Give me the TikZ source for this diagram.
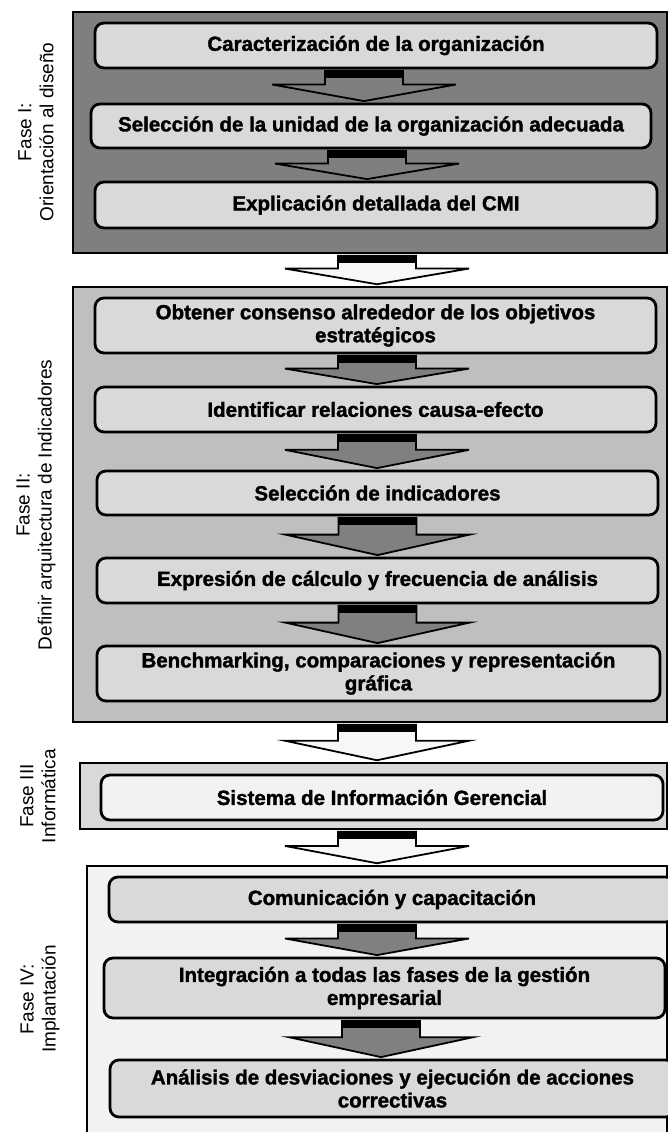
\documentclass[tikz,border=0pt]{standalone}
\usepackage{fontspec}
\setmainfont{Liberation Sans}[BoldFeatures={FakeBold=1.6}]
\usetikzlibrary{calc}
\definecolor{pI}{HTML}{7F7F7F}
\definecolor{pII}{HTML}{BFBFBF}
\definecolor{pIII}{HTML}{D9D9D9}
\definecolor{pIV}{HTML}{F2F2F2}
\definecolor{boxfill}{HTML}{D9D9D9}
\definecolor{boxlight}{HTML}{F2F2F2}
\definecolor{arrowdark}{HTML}{808080}
\definecolor{arrowlight}{HTML}{F7F7F7}
\tikzset{
  phasebox/.style={draw=black, line width=2.5pt, rectangle, inner sep=0pt},
  stepbox/.style={draw=black, line width=2.8pt, rounded corners=9pt, align=center,
    font=\bfseries\fontsize{20.5}{23}\selectfont, inner sep=0pt},
  phaselabel/.style={rotate=90, align=center, font=\fontsize{19}{22}\selectfont, inner sep=0pt},
  arrowbody/.style={draw=black, line width=1.8pt, line join=miter},
}
\newcommand\stepat[7]{%
  \node[stepbox, fill=#6, minimum width={(#4-#2)*1pt}, minimum height={(#5-#3)*1pt}]
    (#1) at ({(#2+#4)/2},{(#3+#5)/2}) {#7};}
\newcommand\phaseat[6]{%
  \node[phasebox, fill=#6, minimum width={(#4-#2)*1pt}, minimum height={(#5-#3)*1pt}]
    (#1) at ({(#2+#4)/2},{(#3+#5)/2}) {};}
\newcommand\blockarrow[4]{%
  \coordinate (ta) at ($(#1.south)+(#3,1.5)$);
  \coordinate (tb) at ($(#2.north -| ta)+(0,-1.5)$);
  \coordinate (sh) at ($(ta)!0.45!(tb)$);
  \draw[arrowbody, fill=#4] ($(ta)+(-39,0)$) -- ($(ta)+(39,0)$) -- ($(sh)+(39,0)$)
    -- ($(sh)+(92,0)$) -- (tb) -- ($(sh)+(-92,0)$) -- ($(sh)+(-39,0)$) -- cycle;
  \fill[black] ($(ta)+(-39,0)$) rectangle ($(ta)+(39,7)$);}
\begin{document}
\begin{tikzpicture}[x=1pt,y=-1pt]
\useasboundingbox (0,0) rectangle (668,1132);
\clip (0,0) rectangle (668,1132);
\fill[white] (0,0) rectangle (668,1132);

% phases
\phaseat{P1}{73}{12}{667}{253}{pI}
\phaseat{P2}{73}{287}{667}{722}{pII}
\phaseat{P3}{80}{763}{667}{829}{pIII}
\phaseat{P4}{87}{866}{667}{1150}{pIV}

% labels
\node[phaselabel] (L1) at (36,132) {Fase I:\\Orientación al diseño};
\node[phaselabel] (L2) at (36,505) {Fase II:\\Definir arquitectura de Indicadores};
\node[phaselabel] (L3) at (38,796) {Fase III\\Informática};
\node[phaselabel] (L4) at (40,999) {Fase IV:\\Implantación};

% phase I steps
\stepat{b1}{95}{23}{657}{68}{boxfill}{Caracterización de la organización}
\stepat{b2}{91}{104}{651}{148}{boxfill}{Selección de la unidad de la organización adecuada}
\stepat{b3}{95}{182}{657}{228}{boxfill}{Explicación detallada del CMI}
% phase II steps
\stepat{b4}{95}{298}{656}{353}{boxfill}{Obtener consenso alrededor de los objetivos\\estratégicos}
\stepat{b5}{95}{387}{656}{432}{boxfill}{Identificar relaciones causa-efecto}
\stepat{b6}{97}{471}{658}{515}{boxfill}{Selección de indicadores}
\stepat{b7}{97}{558}{658}{603}{boxfill}{Expresión de cálculo y frecuencia de análisis}
\stepat{b8}{97}{646}{660}{701}{boxfill}{Benchmarking, comparaciones y representación\\gráfica}
% phase III
\stepat{b9}{101}{775}{663}{820}{boxlight}{Sistema de Información Gerencial}
% phase IV
\stepat{b10}{109}{877}{675}{922}{boxfill}{Comunicación y capacitación}
\stepat{b11}{104}{958}{665}{1018}{boxfill}{Integración a todas las fases de la gestión\\empresarial}
\stepat{b12}{110}{1060}{675}{1117}{boxfill}{Análisis de desviaciones y ejecución de acciones\\correctivas}

% arrows
\blockarrow{b1}{b2}{-12}{pI}
\blockarrow{b2}{b3}{-4}{pI}
\blockarrow{P1}{P2}{7}{arrowlight}
\blockarrow{b4}{b5}{1.5}{arrowdark}
\blockarrow{b5}{b6}{1.5}{arrowdark}
\blockarrow{b6}{b7}{0}{arrowdark}
\blockarrow{b7}{b8}{0}{arrowdark}
\blockarrow{P2}{P3}{7}{arrowlight}
\blockarrow{P3}{P4}{3.5}{arrowlight}
\blockarrow{b10}{b11}{-15}{arrowdark}
\blockarrow{b11}{b12}{-3.5}{arrowdark}
\end{tikzpicture}
\end{document}
